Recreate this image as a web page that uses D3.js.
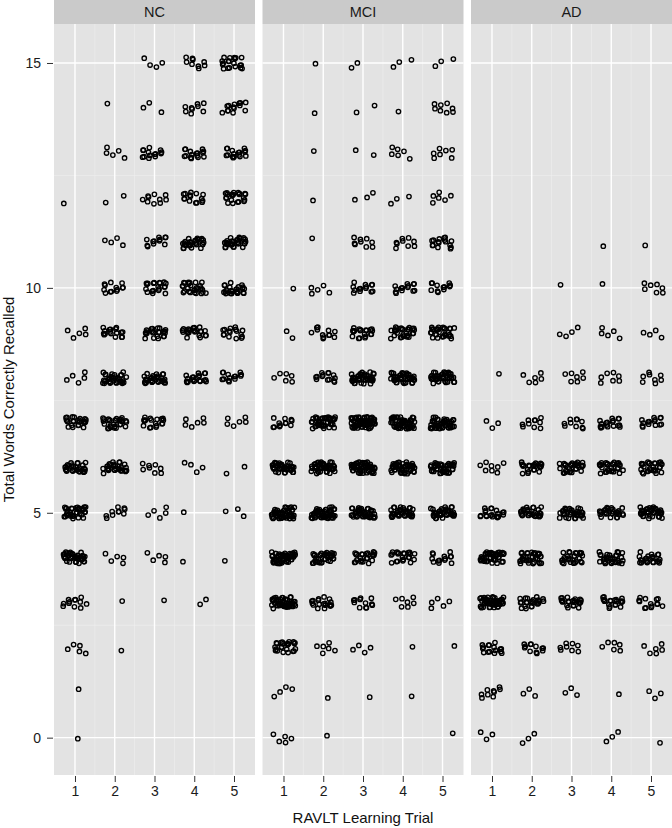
<!DOCTYPE html>
<html>
<head>
<meta charset="utf-8">
<script src="https://cdn.jsdelivr.net/npm/d3@7"></script>
<style>
  body { margin: 0; background: #fff; }
  svg { display: block; font-family: "Liberation Sans", Arial, sans-serif; }
</style>
</head>
<body>
<div id="chart"></div>
<script>
// groups (facets), trials and scores
const groups = ['NC', 'MCI', 'AD'];
const trials = [1, 2, 3, 4, 5];
const scores = [0, 1, 2, 3, 4, 5, 6, 7, 8, 9, 10, 11, 12, 13, 14, 15];
const yTicks = [0, 5, 10, 15];

// number of subjects per score (row = score 0..15), columns = trial 1..5
const countsNC = [
    [1, 0, 0, 0, 0],
    [1, 0, 0, 0, 0],
    [5, 1, 0, 0, 0],
    [12, 1, 1, 2, 0],
    [34, 5, 5, 1, 1],
    [34, 10, 5, 1, 3],
    [28, 28, 8, 4, 2],
    [24, 28, 18, 6, 6],
    [5, 32, 28, 20, 14],
    [5, 17, 24, 22, 16],
    [0, 13, 20, 28, 24],
    [0, 4, 12, 28, 30],
    [1, 2, 10, 15, 22],
    [0, 5, 14, 16, 17],
    [0, 1, 3, 9, 14],
    [0, 0, 4, 9, 20]
];
const countsMCI = [
    [5, 1, 0, 0, 1],
    [4, 1, 1, 1, 0],
    [24, 6, 4, 1, 1],
    [45, 18, 12, 7, 5],
    [52, 34, 24, 22, 14],
    [48, 46, 40, 34, 34],
    [36, 40, 48, 46, 40],
    [12, 40, 60, 52, 46],
    [6, 14, 40, 40, 40],
    [2, 12, 20, 28, 28],
    [1, 5, 14, 14, 12],
    [0, 1, 9, 9, 16],
    [0, 1, 3, 3, 6],
    [0, 1, 2, 6, 7],
    [0, 1, 2, 1, 8],
    [0, 1, 2, 3, 3]
];
const countsAD = [
    [3, 3, 0, 3, 1],
    [9, 3, 3, 1, 3],
    [16, 12, 8, 6, 6],
    [46, 24, 22, 20, 14],
    [40, 34, 28, 32, 24],
    [20, 28, 34, 28, 34],
    [8, 22, 28, 28, 28],
    [3, 10, 10, 18, 15],
    [1, 6, 7, 7, 8],
    [0, 0, 4, 5, 4],
    [0, 0, 1, 1, 7],
    [0, 0, 0, 1, 1],
    [0, 0, 0, 0, 0],
    [0, 0, 0, 0, 0],
    [0, 0, 0, 0, 0],
    [0, 0, 0, 0, 0]
];
const countsByGroup = {NC: countsNC, MCI: countsMCI, AD: countsAD};

const dimensions = {
    width: 672,
    height: 828,
    panelLeft: 54,
    panelWidth: 201,
    panelGap: 7.5,
    stripTop: 0,
    stripHeight: 24,
    panelBottom: 775
};

const svg = d3.select('#chart')
    .append('svg')
    .attr('width', dimensions.width)
    .attr('height', dimensions.height);

// shared scales (x scale gets shifted per panel)
const xScale = d3.scaleLinear()
    .domain([0.472, 5.528])
    .range([0, dimensions.panelWidth]);
const yScale = d3.scaleLinear()
    .domain([-0.83, 15.867])
    .range([dimensions.panelBottom, dimensions.stripHeight]);

const xMinor = [1.5, 2.5, 3.5, 4.5];
const yMinor = [2.5, 7.5, 12.5];

// jitter offsets, quasi-random (deterministic) so the figure is reproducible
const frac = v => v - Math.floor(v);
const jitter = (cellSeed, i) => [
    (frac(cellSeed * 0.618034 + i * 0.7548776662) - 0.5) * 0.6,
    (frac(cellSeed * 0.414214 + i * 0.5698402910 + i * i * 0.0131) - 0.5) * 0.26
];

groups.forEach((group, gi) => {
    const x0 = dimensions.panelLeft + gi * (dimensions.panelWidth + dimensions.panelGap);
    const panel = svg.append('g').attr('transform', `translate(${x0},0)`);

    // panel background
    panel.append('rect')
        .attr('x', 0)
        .attr('y', dimensions.stripHeight)
        .attr('width', dimensions.panelWidth)
        .attr('height', dimensions.panelBottom - dimensions.stripHeight)
        .attr('fill', '#e3e3e3');

    // minor grid
    panel.selectAll('.minor-x').data(xMinor).join('line')
        .attr('x1', d => xScale(d)).attr('x2', d => xScale(d))
        .attr('y1', dimensions.stripHeight).attr('y2', dimensions.panelBottom)
        .attr('stroke', '#f0f0f0').attr('stroke-width', 0.6);
    panel.selectAll('.minor-y').data(yMinor).join('line')
        .attr('x1', 0).attr('x2', dimensions.panelWidth)
        .attr('y1', d => yScale(d)).attr('y2', d => yScale(d))
        .attr('stroke', '#f0f0f0').attr('stroke-width', 0.6);
    // major grid
    panel.selectAll('.major-x').data(trials).join('line')
        .attr('x1', d => xScale(d)).attr('x2', d => xScale(d))
        .attr('y1', dimensions.stripHeight).attr('y2', dimensions.panelBottom)
        .attr('stroke', '#fff').attr('stroke-width', 1.4);
    panel.selectAll('.major-y').data(yTicks).join('line')
        .attr('x1', 0).attr('x2', dimensions.panelWidth)
        .attr('y1', d => yScale(d)).attr('y2', d => yScale(d))
        .attr('stroke', '#fff').attr('stroke-width', 1.4);

    // strip
    panel.append('rect')
        .attr('x', 0).attr('y', dimensions.stripTop)
        .attr('width', dimensions.panelWidth).attr('height', dimensions.stripHeight)
        .attr('fill', '#cacaca');
    panel.append('text')
        .attr('x', dimensions.panelWidth / 2)
        .attr('y', dimensions.stripHeight / 2 + 1)
        .attr('text-anchor', 'middle')
        .attr('dominant-baseline', 'middle')
        .attr('font-size', 14.5)
        .attr('fill', '#1a1a1a')
        .text(group);

    // points
    const counts = countsByGroup[group];
    const points = [];
    scores.forEach((score, si) => {
        trials.forEach((trial, ti) => {
            const n = counts[si][ti];
            const seed = gi * 97 + si * 13 + ti * 5 + 1;
            for (let i = 0; i < n; i++) {
                const [dx, dy] = jitter(seed, i);
                points.push({trial, score, dx, dy});
            }
        });
    });
    panel.append('g').selectAll('circle').data(points).join('circle')
        .attr('cx', d => xScale(d.trial + d.dx))
        .attr('cy', d => yScale(d.score + d.dy))
        .attr('r', 2.2)
        .attr('fill', 'none')
        .attr('stroke', '#000')
        .attr('stroke-width', 1.35);

    // x axis
    const xAxis = d3.axisBottom(xScale)
        .tickValues(trials)
        .tickSize(6)
        .tickPadding(4)
        .tickFormat(d3.format('d'));
    const xg = panel.append('g')
        .attr('transform', `translate(0,${dimensions.panelBottom + 1})`)
        .call(xAxis);
    xg.select('.domain').remove();
    xg.selectAll('line').attr('stroke', '#333');
    xg.selectAll('text')
        .attr('font-size', 14)
        .attr('fill', '#1a1a1a')
        .attr('font-family', '"Liberation Sans", Arial, sans-serif');
});

// y axis
const yAxis = d3.axisLeft(yScale)
    .tickValues(yTicks)
    .tickSize(6)
    .tickPadding(6);
const yg = svg.append('g')
    .attr('transform', `translate(${dimensions.panelLeft - 1},0)`)
    .call(yAxis);
yg.select('.domain').remove();
yg.selectAll('line').attr('stroke', '#333');
yg.selectAll('text')
    .attr('font-size', 14)
    .attr('fill', '#1a1a1a')
    .attr('font-family', '"Liberation Sans", Arial, sans-serif');

// axis titles
const panelsRight = dimensions.panelLeft + 3 * dimensions.panelWidth + 2 * dimensions.panelGap;
svg.append('text')
    .attr('x', (dimensions.panelLeft + panelsRight) / 2)
    .attr('y', 823)
    .attr('text-anchor', 'middle')
    .attr('font-size', 15)
    .attr('fill', '#111')
    .text('RAVLT Learning Trial');
svg.append('text')
    .attr('transform', `translate(14,${(dimensions.stripHeight + dimensions.panelBottom) / 2}) rotate(-90)`)
    .attr('text-anchor', 'middle')
    .attr('font-size', 15)
    .attr('fill', '#111')
    .text('Total Words Correctly Recalled');
</script>
</body>
</html>
